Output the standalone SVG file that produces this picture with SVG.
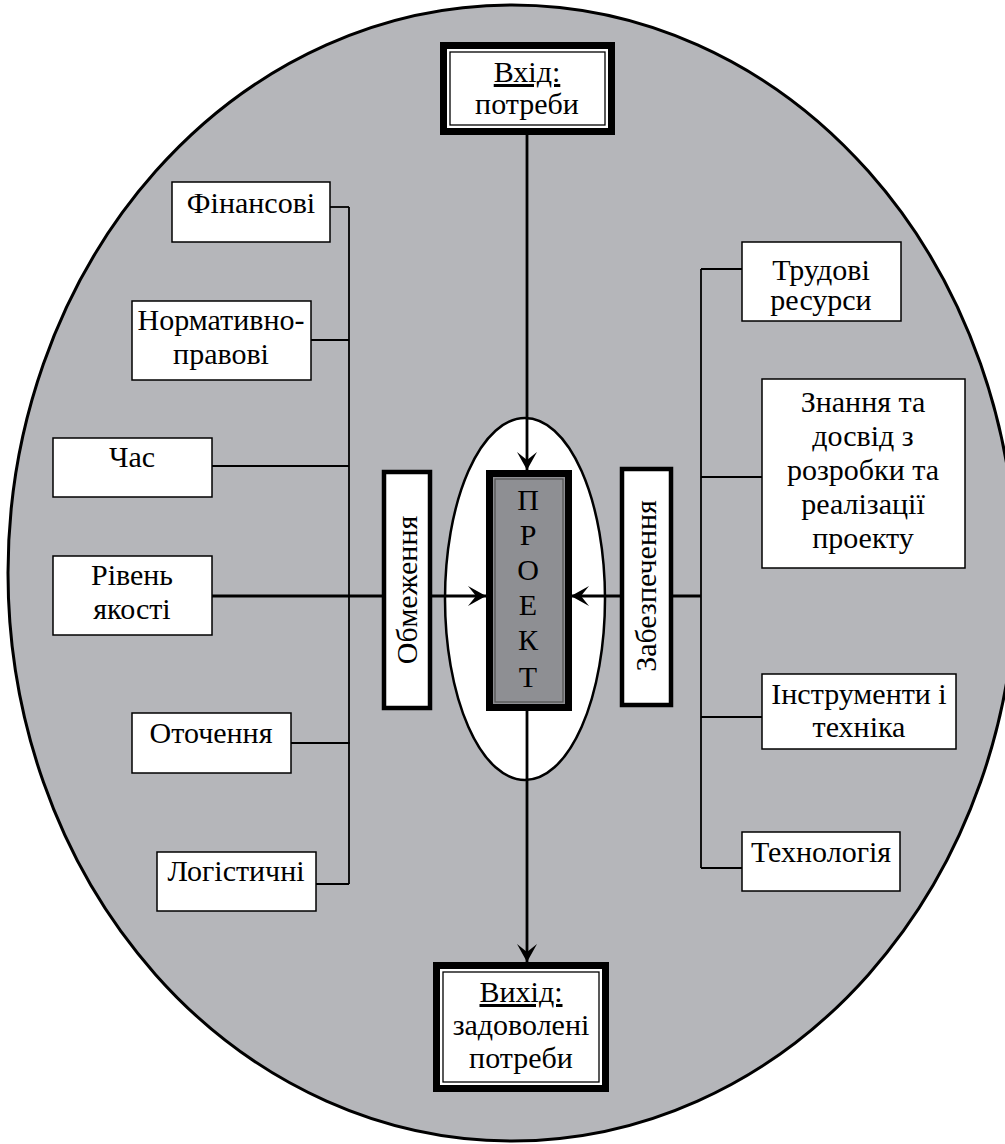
<svg xmlns="http://www.w3.org/2000/svg" width="1005" height="1144" viewBox="0 0 1005 1144">
<defs>
<marker id="arr" viewBox="0 0 18 20" markerWidth="18" markerHeight="20" refX="18" refY="10" orient="auto" markerUnits="userSpaceOnUse">
<path d="M0,0 L18,10 L0,20 L8,10 Z" fill="#000"/>
</marker>
<style>
text{font-family:"Liberation Serif","DejaVu Serif",serif;font-size:30px;fill:#000;text-anchor:middle}
.box{fill:#fff;stroke:#000;stroke-width:1.5}
.tbox{fill:#fff;stroke:#000;stroke-width:4.5}
.dbl{fill:#fff;stroke:#000;stroke-width:7}
.thin{fill:none;stroke:#000;stroke-width:1.3}
.con{fill:none;stroke:#000;stroke-width:1.8}
.arr{fill:none;stroke:#000;stroke-width:2.8;marker-end:url(#arr)}
</style>
</defs>
<rect width="1005" height="1144" fill="#fff"/>
<ellipse id="outer" cx="512" cy="573" rx="504" ry="568" fill="#b5b6ba" stroke="#000" stroke-width="3"/>
<ellipse id="inner" cx="525" cy="599" rx="80" ry="181" fill="#fff" stroke="#000" stroke-width="2.5"/>

<g id="connectors">
<path class="con" d="M349,207 V884"/>
<path class="con" d="M330,207 H349"/>
<path class="con" d="M311,340 H349"/>
<path class="con" d="M212,466 H349"/>
<path class="con" d="M291,743 H350"/>
<path class="con" d="M316,884 H349"/>
<path class="con" d="M701,269 V868"/>
<path class="con" d="M701,269 H742"/>
<path class="con" d="M701,477 H762"/>
<path class="con" d="M701,717 H762"/>
<path class="con" d="M701,868 H742"/>
<path class="con" d="M673,596 H701"/>
<path class="arr" d="M212,596 H486"/>
<path class="arr" d="M701,596 H571"/>
<path class="arr" d="M527,135 V470"/>
<path class="arr" d="M527,711 V962"/>
</g>

<g id="input">
<rect class="dbl" x="443.5" y="45.5" width="168" height="86"/>
<rect class="thin" x="450" y="52" width="155" height="73"/>
<text x="527" y="82" text-decoration="underline">Вхід:</text>
<text x="527" y="114">потреби</text>
</g>

<g id="output">
<rect class="dbl" x="436.5" y="965.5" width="169" height="123"/>
<rect class="thin" x="443" y="972" width="156" height="110"/>
<text x="521" y="1002" text-decoration="underline">Вихід:</text>
<text x="521" y="1035">задоволені</text>
<text x="521" y="1068">потреби</text>
</g>

<g id="project">
<rect x="489.5" y="473.5" width="79" height="234" fill="#8e8f93" stroke="#000" stroke-width="7"/>
<rect x="495" y="479" width="68" height="223" fill="none" stroke="#555" stroke-width="1.3"/>
<text x="528" y="510">П</text>
<text x="528" y="545">Р</text>
<text x="528" y="580">О</text>
<text x="528" y="615">Е</text>
<text x="528" y="650">К</text>
<text x="528" y="687">Т</text>
</g>

<g id="obmezhennia">
<rect class="tbox" x="384" y="472" width="46" height="236"/>
<text transform="translate(407,590) rotate(-90)" x="0" y="10">Обмеження</text>
</g>

<g id="zabezpechennia">
<rect class="tbox" x="622" y="469" width="49" height="236"/>
<text transform="translate(646,586) rotate(-90)" x="0" y="10">Забезпечення</text>
</g>

<g id="finansovi">
<rect class="box" x="172" y="182" width="158" height="60"/>
<text x="251" y="213">Фінансові</text>
</g>
<g id="normatyvno">
<rect class="box" x="132" y="301" width="179" height="79"/>
<text x="221" y="330">Нормативно-</text>
<text x="221" y="364">правові</text>
</g>
<g id="chas">
<rect class="box" x="53" y="438" width="159" height="59"/>
<text x="132" y="467">Час</text>
</g>
<g id="riven">
<rect class="box" x="53" y="556" width="159" height="79"/>
<text x="132" y="585">Рівень</text>
<text x="132" y="619">якості</text>
</g>
<g id="otochennia">
<rect class="box" x="132" y="713" width="159" height="60"/>
<text x="211" y="743">Оточення</text>
</g>
<g id="lohistychni">
<rect class="box" x="157" y="852" width="159" height="59"/>
<text x="236" y="881">Логістичні</text>
</g>

<g id="trudovi">
<rect class="box" x="742" y="242" width="159" height="79"/>
<text x="821" y="280">Трудові</text>
<text x="821" y="310">ресурси</text>
</g>
<g id="znannia">
<rect class="box" x="762" y="379" width="203" height="189"/>
<text x="863" y="412">Знання та</text>
<text x="863" y="446">досвід з</text>
<text x="863" y="480">розробки та</text>
<text x="863" y="514">реалізації</text>
<text x="863" y="548">проекту</text>
</g>
<g id="instrumenty">
<rect class="box" x="762" y="674" width="194" height="75"/>
<text x="859" y="704">Інструменти і</text>
<text x="859" y="737">техніка</text>
</g>
<g id="tekhnolohiia">
<rect class="box" x="742" y="832" width="158" height="59"/>
<text x="821" y="862">Технологія</text>
</g>
</svg>
